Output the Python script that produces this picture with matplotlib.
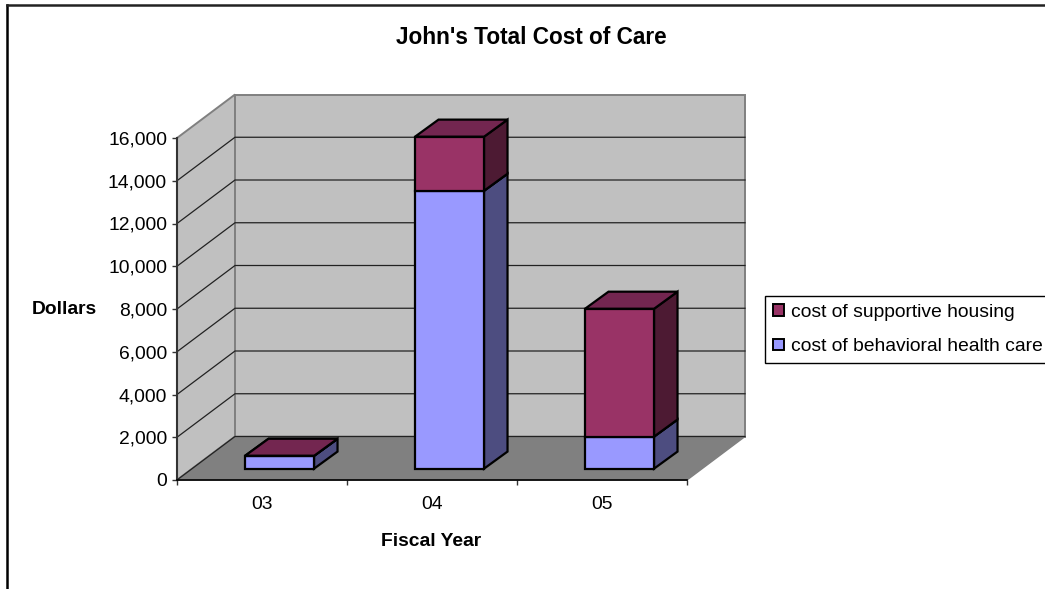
import matplotlib
matplotlib.use("Agg")
import matplotlib.pyplot as plt
from matplotlib.patches import Polygon, Patch

plt.rcParams['font.family'] = ['Liberation Sans', 'DejaVu Sans']

years = ["03", "04", "05"]
behavioral = [600, 13000, 1500]
housing = [0, 2530, 5980]
yticks = [0, 2000, 4000, 6000, 8000, 10000, 12000, 14000, 16000]
ylabels = ["0", "2,000", "4,000", "6,000", "8,000", "10,000", "12,000", "14,000", "16,000"]

W, H = 1045, 589
fig = plt.figure(figsize=(W / 100, H / 100), dpi=100)
ax = fig.add_axes([177 / W, (H - 480) / H, 510 / W, 342 / H])
ax.set_xlim(0, 3)
ax.set_ylim(0, 16000)
ax.patch.set_visible(False)

# depth of the fake 3d box, in data units
depth_x = 58 / 170
depth_y = 43.5 / 342 * 16000
# bar placement inside the box
bar_left = 0.4
bar_w = 0.406
bar_lift = 530
bar_dx = 23.5 / 170
bar_dy = 800


def poly(pts, fc, ec, lw=1.0, z=1):
    ax.add_patch(Polygon(pts, closed=True, facecolor=fc, edgecolor=ec, linewidth=lw,
                         clip_on=False, zorder=z, joinstyle='miter'))


top = 16000
poly([(0, 0), (0, top), (depth_x, top + depth_y), (depth_x, depth_y)], "#C0C0C0", "#808080", 1.4)
poly([(depth_x, depth_y), (depth_x, top + depth_y), (3 + depth_x, top + depth_y), (3 + depth_x, depth_y)],
     "#C0C0C0", "#808080", 1.4)
poly([(0, 0), (3, 0), (3 + depth_x, depth_y), (depth_x, depth_y)], "#808080", "#808080", 1.0)

for t in yticks[:-1]:
    ax.plot([0, depth_x, 3 + depth_x], [t, t + depth_y, t + depth_y], color="#222222", lw=0.9,
            clip_on=False, zorder=2)


def box(x, y0, y1, front, side, roof):
    y0 += bar_lift
    y1 += bar_lift
    x1 = x + bar_w
    poly([(x1, y0), (x1 + bar_dx, y0 + bar_dy), (x1 + bar_dx, y1 + bar_dy), (x1, y1)], side, "black", 1.6, 4)
    poly([(x, y1), (x1, y1), (x1 + bar_dx, y1 + bar_dy), (x + bar_dx, y1 + bar_dy)], roof, "black", 1.6, 4)
    poly([(x, y0), (x1, y0), (x1, y1), (x, y1)], front, "black", 1.6, 5)


for i in range(len(years)):
    x = i + bar_left
    box(x, 0, behavioral[i], "#9999FF", "#4D4D80", "#73739F")
    if housing[i] > 0:
        box(x, behavioral[i], behavioral[i] + housing[i], "#993366", "#4D1A33", "#732650")
    else:
        box(x, behavioral[i], behavioral[i], "#993366", "#4D4D80", "#732650")

ax.set_yticks(yticks)
ax.set_yticklabels(ylabels, fontsize=13.9)
ax.set_xticks([0, 1, 2, 3])
ax.set_xticklabels([])
ax.set_xticks([0.5, 1.5, 2.5], labels=years, minor=True, fontsize=13.9)
ax.tick_params(axis='x', which='minor', length=0, pad=11.7)
ax.tick_params(axis='both', which='major', length=3.6, width=1, color="#333333", pad=3.6)
for s in ['top', 'right']:
    ax.spines[s].set_visible(False)
ax.spines['left'].set_linewidth(1.5)
ax.spines['left'].set_color("#333333")
ax.spines['bottom'].set_linewidth(1.2)
ax.spines['left'].set_zorder(3)
ax.spines['bottom'].set_zorder(3)

fig.text(531 / W, 1 - 38 / H, "John's Total Cost of Care", ha='center', va='center',
         fontsize=16.3, fontweight='bold')
fig.text(64.5 / W, 1 - 310 / H, "Dollars", ha='center', va='center', fontsize=13.9, fontweight='bold')
fig.text(431.5 / W, 1 - 541.5 / H, "Fiscal Year", ha='center', va='center', fontsize=13.9, fontweight='bold')

# chart area frame, only top and left fall inside the picture
fig.add_artist(plt.Line2D([7 / W, 7 / W], [0, 1 - 5 / H], color="black", lw=1.8))
fig.add_artist(plt.Line2D([7 / W, 1], [1 - 5 / H, 1 - 5 / H], color="#222222", lw=1.8))

handles = [Patch(facecolor="#993366", edgecolor="black", linewidth=1.4, label="cost of supportive housing"),
           Patch(facecolor="#9999FF", edgecolor="black", linewidth=1.4, label="cost of behavioral health care")]
fig.legend(handles=handles, loc='center left', bbox_to_anchor=(765 / W, 1 - 329.5 / H), fontsize=13.9,
           fancybox=False, framealpha=1, edgecolor="black", handlelength=0.55, handleheight=0.55,
           handletextpad=0.37, borderpad=0.41, borderaxespad=0, labelspacing=0.93)

fig.savefig("out.png", dpi=100)
